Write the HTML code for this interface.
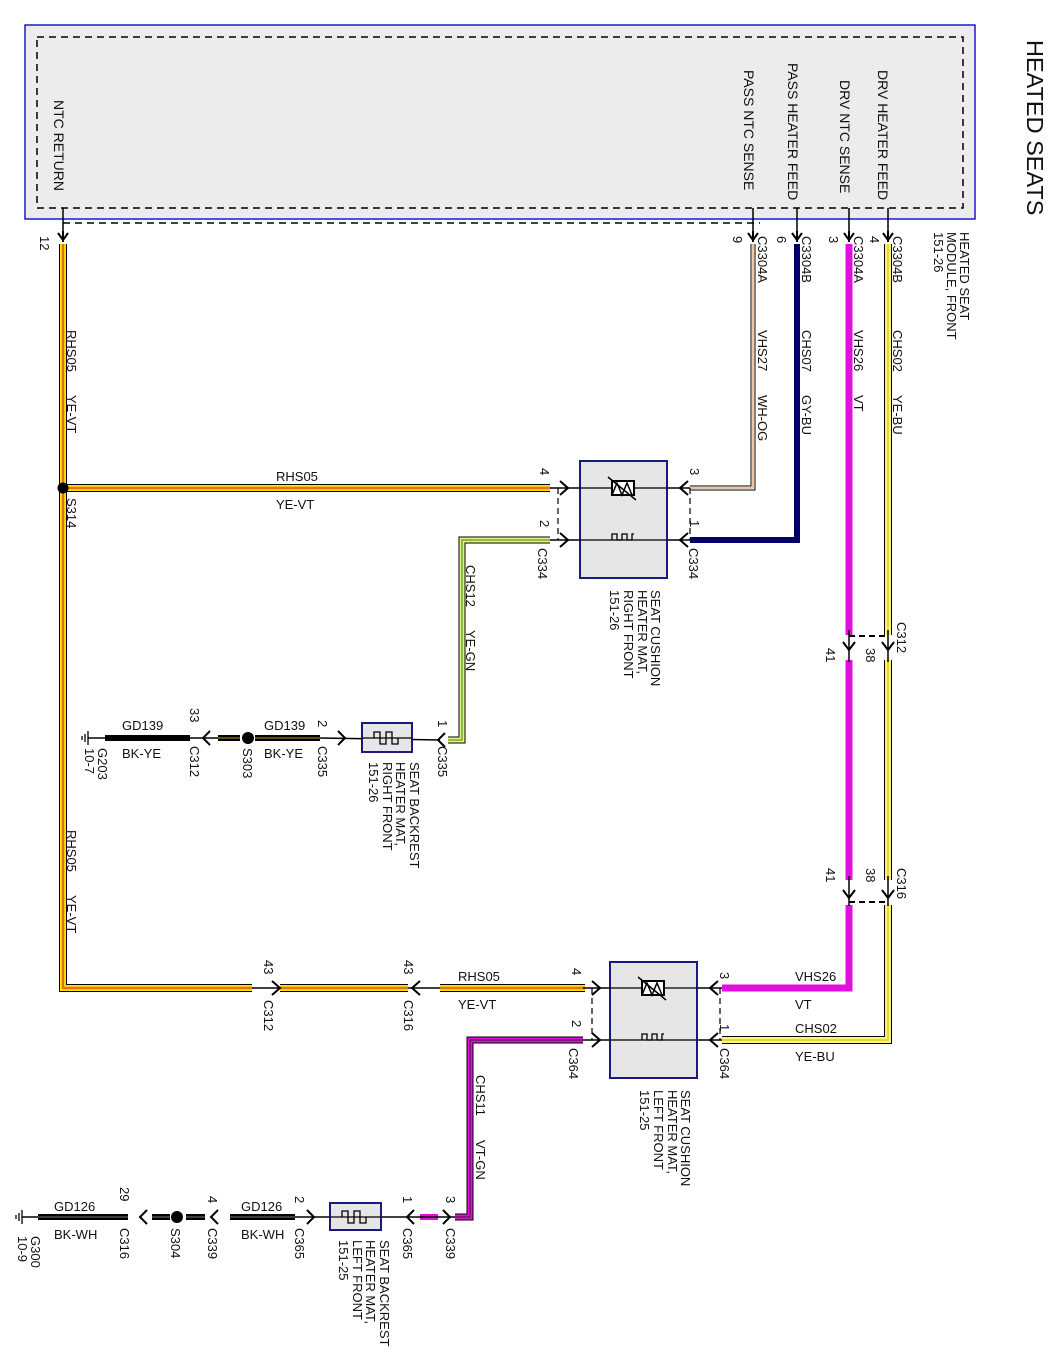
<!DOCTYPE html>
<html><head><meta charset="utf-8"><style>
html,body{margin:0;padding:0;background:#fff;}
svg{display:block;font-family:"Liberation Sans",Arial,sans-serif;}
text{font-size:13px;fill:#111;}
</style></head><body>
<svg width="1053" height="1369" viewBox="0 0 1053 1369" xmlns="http://www.w3.org/2000/svg">
<defs>
<path id="dn" d="M-5,-7 L0,0 L5,-7 M0,-9 L0,2" fill="none" stroke="#000" stroke-width="2"/>
</defs>
<rect x="25" y="25" width="950" height="194" fill="#ececec" stroke="#1a1ad0" stroke-width="1.5"/>
<rect x="37" y="37" width="926" height="171" fill="none" stroke="#000" stroke-width="1.5" stroke-dasharray="7,5"/>
<path d="M63,223 L760,223" stroke="#000" stroke-width="1.5" stroke-dasharray="7,5"/>
<text transform="translate(1027,40) rotate(90)" style="font-size:23.5px">HEATED SEATS</text>
<g>
<text transform="translate(54,100) rotate(90)" style="font-size:14px">NTC RETURN</text>
<text transform="translate(744,70) rotate(90)" style="font-size:14px">PASS NTC SENSE</text>
<text transform="translate(788,63) rotate(90)" style="font-size:14px">PASS HEATER FEED</text>
<text transform="translate(840,80) rotate(90)" style="font-size:14px">DRV NTC SENSE</text>
<text transform="translate(878,70) rotate(90)" style="font-size:14px">DRV HEATER FEED</text>
<text transform="translate(960,232) rotate(90)">HEATED SEAT</text>
<text transform="translate(947,232) rotate(90)">MODULE, FRONT</text>
<text transform="translate(934,232) rotate(90)">151-26</text>
</g>
<g stroke="#000" stroke-width="1.5">
<line x1="63" y1="208" x2="63" y2="232"/><line x1="753" y1="208" x2="753" y2="232"/>
<line x1="797" y1="208" x2="797" y2="232"/><line x1="849" y1="208" x2="849" y2="232"/>
<line x1="888" y1="208" x2="888" y2="232"/>
</g>
<use href="#dn" x="63" y="240"/><use href="#dn" x="753" y="240"/><use href="#dn" x="797" y="240"/><use href="#dn" x="849" y="240"/><use href="#dn" x="888" y="240"/>
<text transform="translate(40,236) rotate(90)">12</text>
<text transform="translate(733,236) rotate(90)">9</text>
<text transform="translate(758,236) rotate(90)">C3304A</text>
<text transform="translate(777,236) rotate(90)">6</text>
<text transform="translate(802,236) rotate(90)">C3304B</text>
<text transform="translate(829,236) rotate(90)">3</text>
<text transform="translate(854,236) rotate(90)">C3304A</text>
<text transform="translate(870,236) rotate(90)">4</text>
<text transform="translate(893,236) rotate(90)">C3304B</text>

<g fill="none" stroke-linejoin="miter">
<path d="M63,244 L63,988 L252,988 M280,988 L408,988 M440,988 L585,988 M63,488 L550,488" stroke="#000" stroke-width="8"/>
<path d="M63,244 L63,988 L252,988 M280,988 L408,988 M440,988 L585,988 M63,488 L550,488" stroke="#ffe400" stroke-width="6"/>
<path d="M63,244 L63,988 L252,988 M280,988 L408,988 M440,988 L585,988 M63,488 L550,488" stroke="#e8701a" stroke-width="2.5"/>
<path d="M753,244 L753,488 L690,488" stroke="#000" stroke-width="5"/>
<path d="M753,244 L753,488 L690,488" stroke="#fff" stroke-width="3"/>
<path d="M753,244 L753,488 L690,488" stroke="#e8a060" stroke-width="1.2"/>
<path d="M797,244 L797,540 L690,540" stroke="#000066" stroke-width="6"/>
<path d="M849,244 L849,635 M849,660 L849,880 M849,905 L849,988 L722,988" stroke="#e010e0" stroke-width="7"/>
<path d="M888,244 L888,635 M888,660 L888,880 M888,905 L888,1040 L722,1040" stroke="#000" stroke-width="8"/>
<path d="M888,244 L888,635 M888,660 L888,880 M888,905 L888,1040 L722,1040" stroke="#fff27a" stroke-width="6"/>
<path d="M888,244 L888,635 M888,660 L888,880 M888,905 L888,1040 L722,1040" stroke="#ddd020" stroke-width="1.5"/>
<path d="M550,540 L462,540 L462,740 L448,740" stroke="#000" stroke-width="7"/>
<path d="M550,540 L462,540 L462,740 L448,740" stroke="#f0f080" stroke-width="5"/>
<path d="M550,540 L462,540 L462,740 L448,740" stroke="#60b030" stroke-width="1.5"/>
<path d="M583,1040 L470,1040 L470,1217 L455,1217" stroke="#000" stroke-width="7"/>
<path d="M583,1040 L470,1040 L470,1217 L455,1217" stroke="#e010e0" stroke-width="5"/>
<path d="M583,1040 L470,1040 L470,1217 L455,1217" stroke="#202020" stroke-width="1"/>
<path d="M420,1217 L438,1217" stroke="#e010e0" stroke-width="6"/>
<path d="M320,738 L255,738 M240,738 L218,738 M190,738 L105,738" stroke="#000" stroke-width="6"/>
<path d="M320,738 L255,738 M240,738 L218,738" stroke="#b8a020" stroke-width="1"/>
<path d="M295,1217 L230,1217 M205,1217 L186,1217 M170,1217 L152,1217 M128,1217 L38,1217" stroke="#000" stroke-width="6"/>
<path d="M295,1217 L230,1217 M205,1217 L186,1217 M170,1217 L152,1217 M128,1217 L38,1217" stroke="#777" stroke-width="1"/>
</g>
<g stroke="#000" stroke-width="1.5" fill="none">
<line x1="550" y1="488" x2="690" y2="488"/><line x1="550" y1="540" x2="690" y2="540"/>
<line x1="583" y1="988" x2="722" y2="988"/><line x1="583" y1="1040" x2="722" y2="1040"/>
<line x1="440" y1="740" x2="320" y2="738"/><line x1="105" y1="738" x2="88" y2="738"/>
<line x1="455" y1="1217" x2="295" y2="1217"/><line x1="38" y1="1217" x2="22" y2="1217"/>
<line x1="252" y1="988" x2="280" y2="988"/><line x1="408" y1="988" x2="440" y2="988"/>
<line x1="849" y1="630" x2="849" y2="662"/><line x1="888" y1="630" x2="888" y2="662"/>
<line x1="849" y1="876" x2="849" y2="906"/><line x1="888" y1="876" x2="888" y2="906"/>
<line x1="190" y1="738" x2="218" y2="738"/>
</g>
<g stroke="#000" stroke-width="1.2" stroke-dasharray="6,4">
<line x1="558" y1="488" x2="558" y2="540"/><line x1="690" y1="488" x2="690" y2="540"/>
<line x1="592" y1="988" x2="592" y2="1040"/><line x1="720" y1="988" x2="720" y2="1040"/>
<line x1="849" y1="636" x2="888" y2="636" stroke-width="2"/><line x1="849" y1="902" x2="888" y2="902" stroke-width="2"/>
</g>
<g fill="none" stroke="#000" stroke-width="2">
<path d="M560,481 L568,488 L560,495 M560,533 L568,540 L560,547"/>
<path d="M688,481 L680,488 L688,495 M688,533 L680,540 L688,547"/>
<path d="M592,981 L600,988 L592,995 M592,1033 L600,1040 L592,1047"/>
<path d="M718,981 L710,988 L718,995 M718,1033 L710,1040 L718,1047"/>
<path d="M272,981 L280,988 L272,995"/>
<path d="M420,981 L412,988 L420,995"/>
<path d="M843,642 L849,650 L855,642 M882,642 L888,650 L894,642"/>
<path d="M843,890 L849,898 L855,890 M882,890 L888,898 L894,890"/>
<path d="M445,733 L438,740 L445,747"/>
<path d="M338,731 L345,738 L338,745"/>
<path d="M210,731 L203,738 L210,745"/>
<path d="M414,1210 L407,1217 L414,1224"/>
<path d="M443,1210 L450,1217 L443,1224"/>
<path d="M307,1210 L314,1217 L307,1224"/>
<path d="M218,1210 L211,1217 L218,1224"/>
<path d="M147,1210 L140,1217 L147,1224"/>
</g>
<circle cx="63" cy="488" r="5.5" fill="#000"/>
<circle cx="248" cy="738" r="6" fill="#000"/>
<circle cx="177" cy="1217" r="6" fill="#000"/>
<g stroke="#000" stroke-width="1.3">
<line x1="88" y1="731" x2="88" y2="745"/><line x1="85" y1="734" x2="85" y2="742"/><line x1="82" y1="736" x2="82" y2="740"/>
<line x1="22" y1="1210" x2="22" y2="1224"/><line x1="19" y1="1213" x2="19" y2="1221"/><line x1="16" y1="1215" x2="16" y2="1219"/>
</g>
<rect x="580" y="461" width="87" height="117" fill="#e6e6e6" stroke="#1a1a80" stroke-width="2"/>
<rect x="610" y="962" width="87" height="116" fill="#e6e6e6" stroke="#1a1a80" stroke-width="2"/>
<rect x="362" y="723" width="50" height="29" fill="#e6e6e6" stroke="#1a1a80" stroke-width="2"/>
<rect x="330" y="1203" width="51" height="27" fill="#e6e6e6" stroke="#1a1a80" stroke-width="2"/>
<g stroke="#000" stroke-width="1.3" fill="none">
<line x1="580" y1="488" x2="667" y2="488"/><line x1="580" y1="540" x2="667" y2="540"/>
<line x1="610" y1="988" x2="697" y2="988"/><line x1="610" y1="1040" x2="697" y2="1040"/>
<path d="M612,540 L612,534 L617,534 L617,540 L622,540 L622,534 L627,534 L627,540 L632,540 L632,534 L634,534"/>
<path d="M642,1040 L642,1034 L647,1034 L647,1040 L652,1040 L652,1034 L657,1034 L657,1040 L662,1040 L662,1034 L664,1034"/>
<line x1="362" y1="738" x2="412" y2="738"/>
<path d="M374,738 L374,732 L380,732 L380,744 L386,744 L386,732 L392,732 L392,744 L398,744 L398,738"/>
<line x1="330" y1="1217" x2="381" y2="1217"/>
<path d="M342,1217 L342,1211 L348,1211 L348,1223 L354,1223 L354,1211 L360,1211 L360,1223 L366,1223 L366,1217"/>
</g>
<rect x="612" y="481" width="22" height="14" fill="#fff" stroke="#000" stroke-width="2"/>
<path d="M612,495 L617,483 L622,495 L627,483 L632,495 M608,477 L636,500" stroke="#000" stroke-width="1.5" fill="none"/>
<rect x="642" y="981" width="22" height="14" fill="#fff" stroke="#000" stroke-width="2"/>
<path d="M642,995 L647,983 L652,995 L657,983 L662,995 M638,977 L666,1000" stroke="#000" stroke-width="1.5" fill="none"/>

<g>
<text transform="translate(67,330) rotate(90)">RHS05</text><text transform="translate(67,395) rotate(90)">YE-VT</text>
<text transform="translate(67,830) rotate(90)">RHS05</text><text transform="translate(67,895) rotate(90)">YE-VT</text>
<text transform="translate(67,498) rotate(90)">S314</text>
<text transform="translate(758,330) rotate(90)">VHS27</text><text transform="translate(758,395) rotate(90)">WH-OG</text>
<text transform="translate(802,330) rotate(90)">CHS07</text><text transform="translate(802,395) rotate(90)">GY-BU</text>
<text transform="translate(854,330) rotate(90)">VHS26</text><text transform="translate(854,395) rotate(90)">VT</text>
<text transform="translate(893,330) rotate(90)">CHS02</text><text transform="translate(893,395) rotate(90)">YE-BU</text>
<text x="276" y="481">RHS05</text><text x="276" y="509">YE-VT</text>
<text transform="translate(540,468) rotate(90)">4</text>
<text transform="translate(540,520) rotate(90)">2</text>
<text transform="translate(538,548) rotate(90)">C334</text>
<text transform="translate(690,468) rotate(90)">3</text>
<text transform="translate(690,520) rotate(90)">1</text>
<text transform="translate(689,548) rotate(90)">C334</text>
<text transform="translate(651,590) rotate(90)">SEAT CUSHION</text>
<text transform="translate(638,590) rotate(90)">HEATER MAT,</text>
<text transform="translate(624,590) rotate(90)">RIGHT FRONT</text>
<text transform="translate(610,590) rotate(90)">151-26</text>
<text transform="translate(466,565) rotate(90)">CHS12</text><text transform="translate(466,630) rotate(90)">YE-GN</text>
<text transform="translate(897,622) rotate(90)">C312</text>
<text transform="translate(866,648) rotate(90)">38</text>
<text transform="translate(826,648) rotate(90)">41</text>
<text transform="translate(897,868) rotate(90)">C316</text>
<text transform="translate(866,868) rotate(90)">38</text>
<text transform="translate(826,868) rotate(90)">41</text>
<text transform="translate(438,720) rotate(90)">1</text>
<text transform="translate(438,746) rotate(90)">C335</text>
<text transform="translate(410,762) rotate(90)">SEAT BACKREST</text>
<text transform="translate(396,762) rotate(90)">HEATER MAT,</text>
<text transform="translate(383,762) rotate(90)">RIGHT FRONT</text>
<text transform="translate(369,762) rotate(90)">151-26</text>
<text transform="translate(318,720) rotate(90)">2</text>
<text transform="translate(318,746) rotate(90)">C335</text>
<text x="264" y="730">GD139</text><text x="264" y="758">BK-YE</text>
<text transform="translate(243,748) rotate(90)">S303</text>
<text transform="translate(190,708) rotate(90)">33</text>
<text transform="translate(190,746) rotate(90)">C312</text>
<text x="122" y="730">GD139</text><text x="122" y="758">BK-YE</text>
<text transform="translate(98,748) rotate(90)">G203</text>
<text transform="translate(85,748) rotate(90)">10-7</text>
<text transform="translate(264,960) rotate(90)">43</text>
<text transform="translate(264,1000) rotate(90)">C312</text>
<text transform="translate(404,960) rotate(90)">43</text>
<text transform="translate(404,1000) rotate(90)">C316</text>
<text x="458" y="981">RHS05</text><text x="458" y="1009">YE-VT</text>
<text transform="translate(572,968) rotate(90)">4</text>
<text transform="translate(572,1020) rotate(90)">2</text>
<text transform="translate(569,1048) rotate(90)">C364</text>
<text transform="translate(720,972) rotate(90)">3</text>
<text transform="translate(720,1024) rotate(90)">1</text>
<text transform="translate(720,1048) rotate(90)">C364</text>
<text x="795" y="981">VHS26</text><text x="795" y="1009">VT</text>
<text x="795" y="1033">CHS02</text><text x="795" y="1061">YE-BU</text>
<text transform="translate(681,1090) rotate(90)">SEAT CUSHION</text>
<text transform="translate(668,1090) rotate(90)">HEATER MAT,</text>
<text transform="translate(654,1090) rotate(90)">LEFT FRONT</text>
<text transform="translate(640,1090) rotate(90)">151-25</text>
<text transform="translate(476,1075) rotate(90)">CHS11</text><text transform="translate(476,1140) rotate(90)">VT-GN</text>
<text transform="translate(446,1196) rotate(90)">3</text>
<text transform="translate(446,1228) rotate(90)">C339</text>
<text transform="translate(403,1196) rotate(90)">1</text>
<text transform="translate(403,1228) rotate(90)">C365</text>
<text transform="translate(380,1240) rotate(90)">SEAT BACKREST</text>
<text transform="translate(366,1240) rotate(90)">HEATER MAT,</text>
<text transform="translate(353,1240) rotate(90)">LEFT FRONT</text>
<text transform="translate(339,1240) rotate(90)">151-25</text>
<text transform="translate(295,1196) rotate(90)">2</text>
<text transform="translate(295,1228) rotate(90)">C365</text>
<text x="241" y="1211">GD126</text><text x="241" y="1239">BK-WH</text>
<text transform="translate(208,1196) rotate(90)">4</text>
<text transform="translate(208,1228) rotate(90)">C339</text>
<text transform="translate(171,1228) rotate(90)">S304</text>
<text transform="translate(120,1187) rotate(90)">29</text>
<text transform="translate(120,1228) rotate(90)">C316</text>
<text x="54" y="1211">GD126</text><text x="54" y="1239">BK-WH</text>
<text transform="translate(31,1236) rotate(90)">G300</text>
<text transform="translate(18,1236) rotate(90)">10-9</text>
</g>
</svg>
</body></html>
